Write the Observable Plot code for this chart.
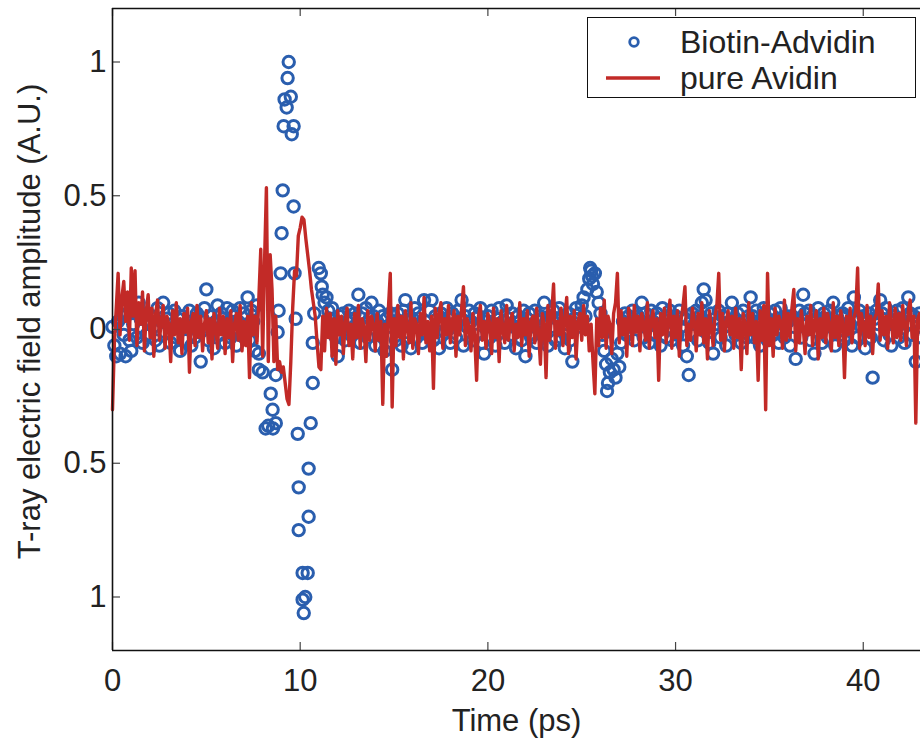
<!DOCTYPE html>
<html>
<head>
<meta charset="utf-8">
<script src="https://cdn.jsdelivr.net/npm/d3@7"></script>
<script src="https://cdn.jsdelivr.net/npm/@observablehq/plot@0.6"></script>
<style>
  body { margin: 0; background: #fff; }
  #wrap { position: relative; width: 920px; height: 740px; overflow: hidden; font-family: "Liberation Sans", Arial, Helvetica, sans-serif; color: #222; }
  #legend { position: absolute; left: 587px; top: 17px; width: 329px; height: 81px; border: 1.5px solid #111; background: #fff; box-sizing: border-box; }
  .row { position: absolute; left: 0; height: 36px; width: 100%; font-size: 32px; line-height: 36px; }
  .row .txt { position: absolute; left: 92px; top: 0; white-space: nowrap; }
  .row svg { position: absolute; left: 0; top: 0; }
</style>
</head>
<body>
<div id="wrap">
  <div id="chart"></div>
  <div id="legend"></div>
</div>
<script>
// ---- data ----
const xTicks = [0, 10, 20, 30, 40];
const yTicks = [1, 0.5, 0, -0.5, -1];
const yTickLabels = ["1", "0.5", "0", "0.5", "1"];
const seriesNames = ["Biotin-Advidin", "pure Avidin"];
const xLabel = "Time (ps)";
const yLabel = "T-ray electric field amplitude (A.U.)";

// pure Avidin: sampled every 0.1 ps from 0 ps
const avidinStep = 0.1;
const avidinAmp = [
  -0.30, -0.05, 0.08, 0.21, -0.02, 0.12, 0.18, 0.03, 0.14, -0.04,
  0.23, 0.05, 0.22, -0.06, 0.10, 0.02, 0.14, -0.08, 0.07, 0.13,
  -0.03, 0.08, -0.10, 0.06, 0.11, -0.04, 0.03, 0.09, -0.07, 0.05,
  0.02, -0.12, 0.07, -0.02, 0.10, -0.05, 0.04, -0.09, 0.06, -0.01,
  0.08, -0.16, 0.03, 0.06, -0.06, 0.09, -0.03, 0.05, -0.08, 0.02,
  0.07, -0.05, 0.04, -0.11, 0.06, 0.01, -0.07, 0.08, -0.02, 0.05,
  -0.09, 0.04, -0.03, 0.07, -0.12, 0.02, 0.06, -0.04, 0.09, -0.08,
  0.03, -0.06, 0.05, -0.18, 0.10, -0.02, 0.05, -0.05, 0.12, 0.30,
  -0.10, 0.25, 0.53, -0.12, 0.28, 0.15, -0.12, 0.05, -0.15, -0.12,
  -0.16, -0.14, -0.20, -0.26, -0.28, -0.12, 0.08, 0.22, 0.20, 0.35,
  0.38, 0.42, 0.41, 0.34, 0.28, 0.22, 0.15, 0.10, 0.05, -0.05,
  -0.14, -0.15, 0.05, -0.08, 0.08, -0.03, 0.06, -0.10, 0.04, -0.13,
  0.07, -0.02, 0.05, -0.09, 0.03, 0.08, -0.06, 0.02, -0.11, 0.06,
  -0.03, 0.09, -0.07, 0.04, 0.01, -0.12, 0.07, -0.04, 0.05, 0.02,
  -0.08, 0.06, -0.04, 0.03, -0.28, 0.02, -0.10, 0.08, 0.21, -0.29,
  0.04, -0.06, 0.09, -0.03, 0.05, -0.11, 0.07, 0.01, -0.05, 0.10,
  -0.07, 0.04, 0.02, -0.09, 0.06, -0.02, 0.12, -0.05, 0.03, -0.08,
  0.05, -0.22, 0.08, -0.03, 0.06, 0.10, -0.07, 0.04, -0.02, 0.09,
  -0.05, 0.03, 0.07, -0.10, 0.05, -0.02, 0.08, 0.16, -0.06, 0.04,
  0.01, -0.08, 0.06, -0.03, -0.19, 0.05, 0.09, -0.04, 0.03, -0.07,
  0.06, 0.02, -0.09, 0.08, -0.03, 0.04, -0.12, 0.07, 0.00, -0.05,
  0.09, -0.04, 0.03, 0.06, -0.08, 0.02, -0.03, 0.10, -0.06, 0.04,
  -0.02, 0.07, -0.10, 0.03, 0.05, -0.05, 0.08, -0.01, -0.13, 0.06,
  0.02, -0.18, 0.09, -0.04, 0.06, 0.17, -0.07, 0.03, -0.02, 0.08,
  -0.06, 0.04, 0.12, -0.09, 0.05, -0.03, 0.07, -0.11, 0.03, 0.06,
  -0.04, 0.09, -0.02, 0.05, -0.08, 0.02, -0.12, -0.24, 0.04, -0.06,
  0.08, -0.03, 0.11, -0.07, 0.05, 0.02, -0.09, 0.06, 0.10, 0.21,
  -0.05, 0.07, -0.02, 0.04, -0.10, 0.08, 0.03, -0.06, 0.09, -0.01,
  0.05, -0.08, 0.06, 0.02, -0.04, 0.10, -0.07, 0.03, 0.07, -0.03,
  0.04, -0.19, 0.06, -0.02, 0.08, -0.05, 0.03, 0.11, -0.07, 0.05,
  -0.03, 0.07, -0.10, 0.04, 0.09, 0.16, -0.06, 0.02, -0.04, 0.08,
  0.03, -0.08, 0.06, -0.02, 0.10, -0.05, 0.04, -0.11, 0.07, 0.01,
  -0.06, 0.05, 0.09, 0.21, -0.04, 0.06, -0.08, 0.03, 0.07, -0.02,
  0.05, -0.07, 0.08, -0.03, 0.04, -0.15, 0.06, 0.02, -0.09, 0.10,
  -0.02, 0.06, -0.05, 0.03, -0.19, 0.07, -0.04, 0.09, -0.30, 0.21,
  -0.06, 0.04, -0.10, 0.08, -0.02, 0.05, 0.03, -0.07, 0.11, -0.04,
  0.06, -0.03, 0.08, 0.15, -0.08, 0.04, -0.05, 0.07, 0.01, -0.09,
  0.05, -0.02, 0.09, -0.06, 0.03, 0.07, -0.11, 0.04, -0.03, 0.08,
  -0.05, 0.06, 0.02, -0.08, 0.10, -0.03, 0.05, -0.06, 0.07, 0.03,
  -0.18, 0.05, -0.02, 0.08, -0.05, 0.04, 0.07, 0.23, -0.07, 0.06,
  0.02, -0.06, 0.09, -0.03, 0.05, -0.09, 0.04, 0.06, 0.17, -0.04,
  0.07, -0.02, 0.05, -0.07, 0.10, 0.03, -0.05, 0.08, -0.03, 0.06,
  -0.04, 0.09, 0.02, -0.06, 0.07, 0.11, -0.03, 0.05, -0.35, 0.04,
  0.06, -0.02, 0.05
];

// Biotin-Advidin: sampled every 0.1 ps (null inside the main pulse, listed separately below)
const biotinStep = 0.1;
const biotinAmp = [
  0.01, -0.06, -0.10, 0.03, -0.09, 0.05, -0.02, -0.10, 0.06, -0.04,
  -0.08, 0.02, 0.07, -0.03, 0.10, 0.04, -0.05, 0.06, -0.02, 0.03,
  -0.07, 0.05, 0.01, -0.04, 0.08, -0.06, 0.03, 0.10, -0.01, 0.04,
  0.06, -0.05, 0.02, 0.07, -0.03, 0.04, -0.08, 0.05, 0.01, -0.04,
  0.03, 0.07, -0.06, 0.02, -0.03, 0.06, -0.01, -0.12, 0.04, 0.08,
  0.15, -0.04, 0.05, 0.01, -0.07, 0.03, 0.09, -0.02, 0.06, 0.04,
  -0.05, 0.08, 0.02, -0.03, 0.07, 0.05, -0.06, 0.03, 0.08, -0.02,
  0.06, 0.01, 0.12, -0.04, 0.07, 0.03, -0.08, 0.09, null, null,
  null, null, null, null, null, null, null, null, null, null,
  null, null, null, null, null, null, null, null, null, null,
  null, null, null, null, null, null, null, null, null, null,
  null, null, 0.13, 0.10, 0.12, 0.07, 0.04, 0.08, 0.02, -0.03,
  -0.10, 0.05, 0.01, 0.06, -0.04, 0.03, 0.07, -0.02, 0.04, 0.06,
  0.02, 0.13, -0.05, 0.06, 0.01, 0.08, -0.03, 0.04, 0.10, 0.05,
  -0.06, 0.03, 0.07, -0.02, 0.05, -0.08, 0.04, 0.01, 0.06, -0.15,
  0.03, -0.04, 0.06, 0.02, -0.06, 0.07, 0.11, -0.01, 0.05, -0.07,
  0.04, 0.08, -0.03, 0.06, 0.01, -0.05, 0.11, 0.03, -0.02, 0.07,
  0.11, -0.04, 0.05, 0.02, -0.07, 0.06, 0.03, -0.01, 0.08, 0.04,
  -0.05, 0.06, 0.02, -0.03, 0.07, 0.04, 0.11, -0.06, 0.05, 0.01,
  0.07, 0.03, -0.04, 0.06, -0.02, 0.05, 0.08, -0.05, -0.09, 0.03,
  0.05, -0.03, 0.07, 0.02, -0.06, 0.04, 0.08, -0.01, 0.03, -0.05,
  0.09, 0.04, -0.02, 0.06, 0.01, -0.07, 0.05, 0.03, -0.04, 0.07,
  -0.10, 0.04, 0.06, -0.03, 0.02, 0.07, -0.05, 0.03, 0.05, -0.02,
  0.10, 0.03, -0.06, 0.05, 0.01, 0.07, -0.04, 0.04, 0.08, -0.03,
  0.05, -0.07, 0.02, 0.06, -0.04, -0.12, 0.04, 0.08, 0.01, 0.06,
  0.09, 0.12, 0.05, 0.15, 0.19, 0.22, 0.17, 0.21, 0.14, 0.10,
  0.06, -0.02, -0.08, -0.13, -0.20, -0.16, -0.11, -0.15, -0.18, -0.09,
  -0.14, -0.05, 0.03, 0.06, -0.02, 0.05, 0.01, 0.07, -0.04, 0.03,
  0.05, 0.02, 0.10, -0.03, 0.06, 0.01, -0.05, 0.07, 0.03, -0.02,
  0.06, 0.04, -0.06, 0.08, 0.02, -0.03, 0.05, 0.07, -0.04, 0.03,
  0.05, -0.02, 0.07, 0.01, -0.06, 0.04, -0.10, -0.17, 0.03, 0.06,
  0.02, 0.07, -0.04, 0.05, 0.10, 0.15, 0.11, 0.03, -0.05, 0.06,
  -0.09, 0.04, 0.02, 0.07, -0.03, 0.05, 0.01, -0.06, 0.06, 0.03,
  0.10, 0.04, -0.02, 0.06, 0.02, -0.05, 0.07, 0.03, -0.03, 0.05,
  0.12, 0.05, -0.03, 0.07, 0.02, -0.06, 0.04, 0.08, 0.01, -0.04,
  0.06, 0.03, -0.02, 0.07, 0.04, -0.05, 0.08, 0.02, -0.03, 0.05,
  0.03, -0.06, 0.05, 0.01, -0.11, 0.04, 0.07, -0.03, 0.13, 0.06,
  0.02, 0.07, -0.04, 0.05, -0.09, 0.03, 0.08, 0.01, -0.05, 0.06,
  0.04, -0.03, 0.07, 0.02, 0.10, -0.06, 0.05, 0.03, -0.02, 0.06,
  -0.04, 0.05, 0.08, 0.02, -0.06, 0.12, 0.04, -0.03, 0.07, 0.01,
  0.05, -0.07, 0.03, 0.06, -0.03, -0.18, 0.04, 0.07, 0.02, 0.11,
  0.06, -0.04, 0.08, 0.02, -0.02, -0.06, 0.05, 0.03, 0.07, -0.03,
  0.04, 0.08, -0.05, 0.02, 0.12, 0.06, -0.02, 0.05, -0.12, 0.03,
  0.06, -0.03, 0.04
];

// Biotin-Advidin: irregular points around the main pulse and the 25–27 ps echo
const biotinExtraT = [
  7.8, 7.8, 8.0, 8.16, 8.3, 8.43, 8.53, 8.55, 8.7, 8.7,
  8.8, 8.85, 8.96, 9.01, 9.07, 9.12, 9.17, 9.28, 9.33, 9.39,
  9.5, 9.55, 9.65, 9.65, 9.7, 9.76, 9.87, 9.92, 9.92, 10.13,
  10.13, 10.19, 10.27, 10.4, 10.45, 10.45, 10.56, 10.67, 10.67, 10.75,
  10.99, 11.1, 11.15,
  25.45, 25.55, 26.35
];
const biotinExtraV = [
  -0.09, -0.15, -0.16, -0.37, -0.36, -0.24, -0.30, -0.37, -0.35, -0.17,
  -0.01, 0.07, 0.21, 0.36, 0.52, 0.76, 0.86, 0.83, 0.94, 1.00,
  0.87, 0.73, 0.76, 0.46, 0.21, 0.04, -0.39, -0.59, -0.75, -0.91,
  -1.01, -1.06, -1.00, -0.91, -0.52, -0.70, -0.35, -0.20, -0.05, 0.06,
  0.23, 0.21, 0.16,
  0.23, 0.20, -0.23
];

// ---- build tables ----
const avidin = avidinAmp.map((v, i) => ({t: i * avidinStep, v}));
const biotin = biotinAmp
  .map((v, i) => ({t: i * biotinStep, v}))
  .filter(d => d.v !== null)
  .concat(biotinExtraT.map((t, i) => ({t, v: biotinExtraV[i]})));

const BLUE = "#2a5eae";
const RED = "#c22a27";
const FONT = "'Liberation Sans', Arial, Helvetica, sans-serif";

const chart = Plot.plot({
  width: 920,
  height: 740,
  marginLeft: 112,
  marginTop: 8,
  marginRight: 0,
  marginBottom: 90,
  x: {domain: [0, 43.05]},
  y: {domain: [-1.2, 1.2]},
  style: {fontFamily: FONT, fontSize: "31px", color: "#222", background: "#fff"},
  marks: [
    Plot.dot(biotin, {x: "t", y: "v", r: 5.7, stroke: BLUE, strokeWidth: 3, fill: "none"}),
    Plot.line(avidin, {x: "t", y: "v", stroke: RED, strokeWidth: 3.4, strokeLinejoin: "round"}),
    // inward tick marks (MATLAB style)
    Plot.tickX(xTicks, {x: d => d, insetTop: 634, stroke: "#444", strokeWidth: 1.2}),
    Plot.tickX(xTicks, {x: d => d, insetBottom: 634, stroke: "#444", strokeWidth: 1.2}),
    Plot.tickY(yTicks, {y: d => d, insetRight: 800, stroke: "#444", strokeWidth: 1.2}),
    Plot.axisX({anchor: "bottom", ticks: xTicks, tickSize: 0, tickPadding: 18,
      label: xLabel, labelAnchor: "center", labelOffset: 80, labelArrow: "none"}),
    Plot.axisY({anchor: "left", ticks: yTicks, tickSize: 0, tickPadding: 6,
      tickFormat: (d) => yTickLabels[yTicks.indexOf(d)], label: null}),
    Plot.text([yLabel], {frameAnchor: "left", textAnchor: "middle", lineAnchor: "middle",
      rotate: -90, dx: -82, dy: -8, fontSize: 31, fill: "#222"}),
    Plot.ruleX([0], {stroke: "#111", strokeWidth: 1.6}),
    Plot.ruleY([-1.2, 1.2], {stroke: "#111", strokeWidth: 1.6})
  ]
});
document.getElementById("chart").appendChild(chart);

// ---- legend ----
const legend = document.getElementById("legend");
const rows = [
  {name: seriesNames[0], top: 6, sym: `<svg width="90" height="36"><circle cx="46" cy="18" r="4.3" fill="none" stroke="${BLUE}" stroke-width="2.8"/></svg>`},
  {name: seriesNames[1], top: 42, sym: `<svg width="90" height="36"><line x1="18" x2="72" y1="18" y2="18" stroke="${RED}" stroke-width="3.4"/></svg>`}
];
for (const r of rows) {
  const div = document.createElement("div");
  div.className = "row";
  div.style.top = r.top + "px";
  div.innerHTML = r.sym + `<span class="txt">${r.name}</span>`;
  legend.appendChild(div);
}
</script>
</body>
</html>
